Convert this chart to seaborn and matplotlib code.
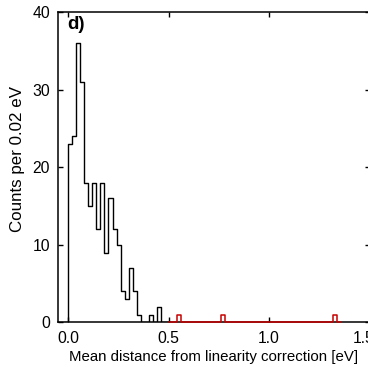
import numpy as np
import pandas as pd
import matplotlib
matplotlib.use("Agg")
import matplotlib.pyplot as plt
import matplotlib.transforms as mtransforms
import seaborn as sns

# ---- data (counts per 0.02 eV bin) ----
bin_width = 0.02
black_start = -0.02   # leading empty bin so the step rises from the baseline at 0
black_counts = [0, 23, 24, 36, 31, 18, 15, 18, 12, 18, 9, 16, 12, 10, 4, 3, 7, 4, 1, 0, 0, 1, 0, 2, 0, 0]
red_start = 0.50
red_counts = [0, 0, 1, 0, 0, 0, 0, 0, 0, 0, 0, 0, 0, 1, 0, 0, 0, 0, 0, 0, 0, 0,
              0, 0, 0, 0, 0, 0, 0, 0, 0, 0, 0, 0, 0, 0, 0, 0, 0, 0, 0, 1, 0]
x_ticks = [0.0, 0.5, 1.0, 1.5]
y_ticks = [0, 10, 20, 30, 40]
x_label = "Mean distance from linearity correction [eV]"
y_label = "Counts per 0.02 eV"
panel_label = "d)"


def make_df(start, counts):
    n = len(counts)
    edges = start + bin_width * np.arange(n + 1)
    centers = 0.5 * (edges[:-1] + edges[1:])
    return pd.DataFrame({"x": centers, "w": counts}), [float(e) for e in edges]


sns.set_style("ticks")
plt.rcParams["font.family"] = ["Liberation Sans", "DejaVu Sans"]
for k in ["text.color", "axes.labelcolor", "xtick.color", "ytick.color", "axes.edgecolor"]:
    plt.rcParams[k] = "black"

W, H = 368, 367
fig = plt.figure(figsize=(W / 100, H / 100), dpi=100)
left, right, top, bottom = 58.3, 369.5, 12.3, 322.3
ax = fig.add_axes([left / W, 1 - bottom / H, (right - left) / W, (bottom - top) / H])

df_b, edges_b = make_df(black_start, black_counts)
df_r, edges_r = make_df(red_start, red_counts)

sns.histplot(data=df_b, x="x", weights="w", bins=edges_b, element="step",
             fill=False, color="black", linewidth=1.0, ax=ax)
n_before = len(ax.lines)
sns.histplot(data=df_r, x="x", weights="w", bins=edges_r, element="step",
             fill=False, color="#c80000", linewidth=1.1, ax=ax, zorder=3)
for ln in ax.lines[n_before:]:
    ln.set_clip_on(False)

ax.set_xlim(-0.05, 1.5)
ax.set_ylim(0, 40)
ax.set_xticks(x_ticks)
ax.set_yticks(y_ticks)
ax.set_xticklabels([f"{v:.1f}" for v in x_ticks])
ax.set_yticklabels([str(v) for v in y_ticks])
ax.tick_params(direction="in", length=3.6, width=1.0, top=True, right=True,
               labelsize=11.3, pad=6, colors="black")
for s in ax.spines.values():
    s.set_visible(True)
    s.set_linewidth(1.1)
    s.set_color("black")

# last x tick label sits a little left in the reference
last = ax.get_xticklabels()[-1]
last.set_transform(last.get_transform() + mtransforms.ScaledTranslation(-6 / 100, 0, fig.dpi_scale_trans))

ax.set_xlabel(x_label, fontsize=10.8, labelpad=3.5)
ax.set_ylabel(y_label, fontsize=12.2)
ax.yaxis.set_label_coords(-0.107, 0.527)
ax.text(0.028, 0.988, panel_label, transform=ax.transAxes, ha="left", va="top",
        fontsize=13.5, fontweight="bold")
ax.grid(False)

fig.savefig("out.png", dpi=100)
